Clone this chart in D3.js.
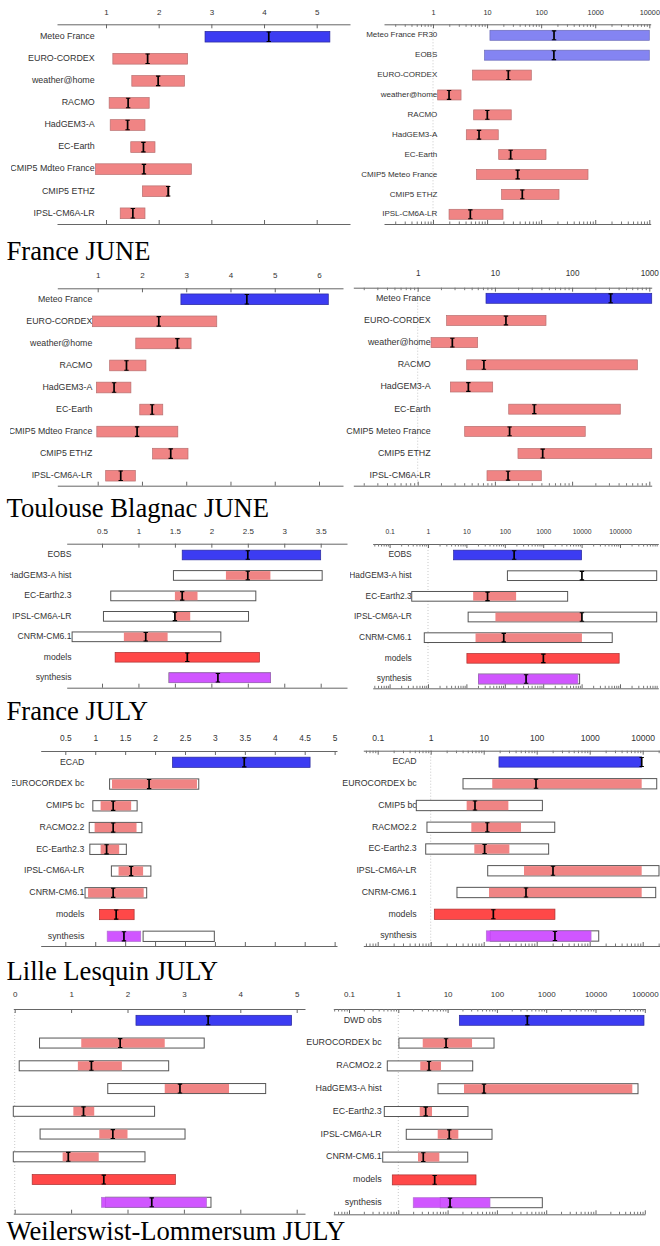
<!DOCTYPE html>
<html><head><meta charset="utf-8">
<script src="https://cdn.jsdelivr.net/npm/d3@7"></script>
<style>body{margin:0;background:#fff} svg{display:block}</style>
</head><body>
<svg id="c" width="660" height="1246"></svg>
<script>
// ================= DATA =================
// kinds: b = observations (blue), lb = observations (light blue), p = model (pink), r = all models (red), v = synthesis (violet)
// Row 1: France JUNE
const p1L_cat  = ["Meteo France","EURO-CORDEX","weather@home","RACMO","HadGEM3-A","EC-Earth","CMIP5 Mdteo France","CMIP5 ETHZ","IPSL-CM6A-LR"];
const p1L_kind = ["b","p","p","p","p","p","p","p","p"];
const p1L_lo   = [2.88,1.13,1.49,1.06,1.08,1.47,0.80,1.69,1.27];
const p1L_hi   = [5.25,2.55,2.49,1.82,1.74,1.93,2.62,2.20,1.74];
const p1L_med  = [4.09,1.79,1.99,1.42,1.41,1.71,1.72,2.18,1.51];
const p1L_ticks = [1,2,3,4,5];

const p1R_cat  = ["Meteo France FR30","EOBS","EURO-CORDEX","weather@home","RACMO","HadGEM3-A","EC-Earth","CMIP5 Meteo France","CMIP5 ETHZ","IPSL-CM6A-LR"];
const p1R_kind = ["lb","lb","p","p","p","p","p","p","p","p"];
const p1R_lo   = [11.3,9.0,5.4,1.22,5.65,4.13,16.4,6.4,18.6,1.98];
const p1R_hi   = [10000,10000,65.8,3.3,28,16.1,123,735,214,19.7];
const p1R_med  = [173,172,24.7,1.98,10.1,7.1,27.3,36.8,44.8,4.9];
const p1R_ticks = [1,10,100,1000,10000];

// Row 2: Toulouse Blagnac JUNE
const p2L_cat  = ["Meteo France","EURO-CORDEX","weather@home","RACMO","HadGEM3-A","EC-Earth","CMIP5 Mdteo France","CMIP5 ETHZ","IPSL-CM6A-LR"];
const p2L_kind = ["b","p","p","p","p","p","p","p","p"];
const p2L_lo   = [2.88,0.88,1.86,1.27,0.97,1.95,0.98,2.24,1.18];
const p2L_hi   = [6.21,3.69,3.11,2.09,1.75,2.47,2.81,3.04,1.85];
const p2L_med  = [4.37,2.38,2.80,1.65,1.37,2.23,1.89,2.65,1.52];
const p2L_ticks = [1,2,3,4,5,6];

const p2R_cat  = ["Meteo France","EURO-CORDEX","weather@home","RACMO","HadGEM3-A","EC-Earth","CMIP5 Meteo France","CMIP5 ETHZ","IPSL-CM6A-LR"];
const p2R_kind = ["b","p","p","p","p","p","p","p","p"];
const p2R_lo   = [7.67,2.37,1.49,4.31,2.65,15.1,4.06,19.9,7.9];
const p2R_hi   = [1075,45.9,5.98,700,9.36,421,148,1075,39.9];
const p2R_med  = [316,13.9,2.81,7.2,4.53,32.4,15.5,41.6,14.8];
const p2R_ticks = [1,10,100,1000];

// Row 3: France JULY
const p3L_cat   = ["EOBS","HadGEM3-A hist","EC-Earth2.3","IPSL-CM6A-LR","CNRM-CM6.1","models","synthesis"];
const p3L_kind  = ["b","p","p","p","p","r","v"];
const p3L_lo    = [1.60,2.20,1.50,1.50,0.80,0.68,1.42];
const p3L_hi    = [3.50,2.81,1.81,1.71,1.40,2.66,2.81];
const p3L_med   = [2.50,2.50,1.60,1.50,1.10,1.67,2.09];
const p3L_boxLo = [null,1.48,0.62,0.52,0.09,null,1.42];
const p3L_boxHi = [null,3.52,2.61,2.51,2.13,null,2.81];
const p3L_ticks = [0.5,1,1.5,2,2.5,3,3.5];

const p3R_cat   = ["EOBS","HadGEM3-A hist","EC-Earth2.3","IPSL-CM6A-LR","CNRM-CM6.1","models","synthesis"];
const p3R_kind  = ["b","p","p","p","p","r","v"];
const p3R_lo    = [4.65,null,15,57,17.3,10.3,20.7];
const p3R_hi    = [10000,null,197,10200,10200,95100,8010];
const p3R_med   = [175,10200,35.5,10200,94,1010,358];
const p3R_boxLo = [null,117,0.377,11.1,0.80,null,20.7];
const p3R_boxHi = [null,903000,4330,903000,62700,null,8870];
const p3R_ticks = [0.1,1,10,100,1000,10000,100000];

// Row 4: Lille Lesquin JULY
const p4L_cat   = ["ECAD","EUROCORDEX bc","CMIP5 bc","RACMO2.2","EC-Earth2.3","IPSL-CM6A-LR","CNRM-CM6.1","models","synthesis"];
const p4L_kind  = ["b","p","p","p","p","p","p","r","v"];
const p4L_lo    = [2.29,1.28,1.09,0.99,1.09,1.39,0.88,1.07,1.20];
const p4L_hi    = [4.59,2.70,1.60,1.69,1.40,1.80,1.81,1.65,1.76];
const p4L_med   = [3.49,1.90,1.30,1.30,1.19,1.60,1.30,1.35,1.48];
const p4L_boxLo = [null,1.24,0.96,0.90,0.91,1.27,0.83,null,1.80];
const p4L_boxHi = [null,2.73,1.70,1.78,1.52,1.93,1.86,null,2.99];
const p4L_ticks = [0.5,1,1.5,2,2.5,3,3.5,4,4.5,5];

const p4R_cat   = ["ECAD","EUROCORDEX bc","CMIP5 bc","RACMO2.2","EC-Earth2.3","IPSL-CM6A-LR","CNRM-CM6.1","models","synthesis"];
const p4R_kind  = ["b","p","p","p","p","p","p","r","v"];
const p4R_lo    = [19.4,14.5,4.77,5.84,6.65,57.6,12.6,1.17,11.2];
const p4R_hi    = [9570,9570,29.2,50.6,30.5,9570,9570,221,1060];
const p4R_med   = [9570,97,6.85,11.7,10.4,203,62.8,15.2,221];
const p4R_boxLo = [null,4.07,0.535,0.85,0.805,11.9,3.13,null,13.3];
const p4R_boxHi = [null,18400,128,219,168,20300,17600,null,1480];
const p4R_ticks = [0.1,1,10,100,1000,10000];

// Row 5: Weilerswist-Lommersum JULY
const p5L_cat   = ["DWD obs","EUROCORDEX bc","RACMO2.2","HadGEM3-A hist","EC-Earth2.3","IPSL-CM6A-LR","CNRM-CM6.1","models","synthesis"];
const p5L_kind  = ["b","p","p","p","p","p","p","r","v"];
const p5L_lo    = [2.15,1.18,1.12,2.66,1.04,1.50,0.85,0.31,1.54];
const p5L_hi    = [4.91,2.66,1.90,3.80,1.41,2.00,1.49,2.85,3.40];
const p5L_med   = [3.43,1.87,1.36,2.93,1.22,1.74,0.95,1.58,2.43];
const p5L_boxLo = [null,0.44,0.08,1.65,-0.04,0.45,-0.04,null,1.61];
const p5L_boxHi = [null,3.36,2.73,4.45,2.48,3.02,2.31,null,3.48];
const p5L_ticks = [0,1,2,3,4,5];

const p5R_cat   = ["DWD obs","EUROCORDEX bc","RACMO2.2","HadGEM3-A hist","EC-Earth2.3","IPSL-CM6A-LR","CNRM-CM6.1","models","synthesis"];
const p5R_kind  = ["b","p","p","p","p","p","p","r","v"];
const p5R_lo    = [17.3,3.13,2.79,21.5,2.72,6.3,2.51,0.755,2.01];
const p5R_hi    = [96300,31.3,7.35,55800,4.83,16.5,6.79,37.7,72.4];
const p5R_med   = [414,9.3,4.2,54.7,3.6,10.8,3.21,5.47,11.2];
const p5R_boxLo = [null,1.03,0.598,6.38,0.52,1.45,0.483,null,7.1];
const p5R_boxHi = [null,87.4,32.3,72800,25.9,79.6,25.6,null,834];
const p5R_ticks = [0.1,1,10,100,1000,10000,100000];

const captions = ["France JUNE","Toulouse Blagnac JUNE","France JULY","Lille Lesquin JULY","Weilerswist-Lommersum JULY"];

// ================= LAYOUT / STYLE =================
const colors = {
  b:  {fill:"#3c3cf2", stroke:"#28289a"},
  lb: {fill:"#8484f2", stroke:"#6a6ab8"},
  p:  {fill:"#f08484", stroke:"#b87070"},
  r:  {fill:"#ff4848", stroke:"#a83030"},
  v:  {fill:"#cc48ff", stroke:"#b070d0"}
};

const panels = [
  {d:[p1L_cat,p1L_kind,p1L_lo,p1L_hi,p1L_med,null,null,p1L_ticks], log:false, cal:[[1,106],[5,316.7]], x0:57, x1:350, top:24.3, bot:224, y0:36.7, y1:213.3, bh:10.7, lx:94.7, ty:12.7, fl:8.9, ft:8, clip:[11,0,352,232], labels:true},
  {d:[p1R_cat,p1R_kind,p1R_lo,p1R_hi,p1R_med,null,null,p1R_ticks], log:true, cal:[[1,433],[10000,649.3]], x0:384, x1:650.7, top:24.3, bot:224, y0:35.3, y1:214.3, bh:10, lx:437.3, ty:13.3, fl:8.0, ft:7.3, clip:[352,0,660,232], labels:true},
  {d:[p2L_cat,p2L_kind,p2L_lo,p2L_hi,p2L_med,null,null,p2L_ticks], log:false, cal:[[1,97.7],[6,319]], x0:57.3, x1:343, top:288.3, bot:485.7, y0:299.3, y1:475.7, bh:10.7, lx:92.3, ty:275.7, fl:8.8, ft:8, clip:[10,264,344,492], labels:true},
  {d:[p2R_cat,p2R_kind,p2R_lo,p2R_hi,p2R_med,null,null,p2R_ticks], log:true, cal:[[1,417.7],[1000,649.3]], x0:353.3, x1:651.7, top:287.7, bot:485.7, y0:298.3, y1:475.7, bh:10, lx:430.7, ty:274, fl:8.9, ft:8.2, clip:[344,264,660,492], labels:true},
  {d:[p3L_cat,p3L_kind,p3L_lo,p3L_hi,p3L_med,p3L_boxLo,p3L_boxHi,p3L_ticks], log:false, cal:[[0.5,102],[3.5,320.7]], x0:66.7, x1:347, top:543.7, bot:687.7, y0:555, y1:677.7, bh:9.7, lx:71.5, ty:532.3, fl:8.6, ft:8, clip:[10,524,348,694], labels:true},
  {d:[p3R_cat,p3R_kind,p3R_lo,p3R_hi,p3R_med,p3R_boxLo,p3R_boxHi,p3R_ticks], log:true, cal:[[1,428],[100000,620]], x0:372.7, x1:658.3, top:544, bot:688.3, y0:555, y1:679, bh:9.7, lx:411.7, ty:532.3, fl:8.4, ft:6.8, clip:[350,524,660,694], labels:true},
  {d:[p4L_cat,p4L_kind,p4L_lo,p4L_hi,p4L_med,p4L_boxLo,p4L_boxHi,p4L_ticks], log:false, cal:[[0.5,65.3],[4.5,304.7]], x0:40.7, x1:337, top:751, bot:946, y0:762.3, y1:936.3, bh:10.3, lx:84.3, ty:739, fl:8.75, ft:8.4, clip:[12,726,340,952], labels:true},
  {d:[p4R_cat,p4R_kind,p4R_lo,p4R_hi,p4R_med,p4R_boxLo,p4R_boxHi,p4R_ticks], log:true, cal:[[1,430.7],[10000,642.7]], x0:363.3, x1:668, top:750.7, bot:946, y0:762, y1:936, bh:10.3, lx:416.7, ty:739, fl:8.75, ft:8.6, clip:[342,726,660,952], labels:true},
  {d:[p5L_cat,p5L_kind,p5L_lo,p5L_hi,p5L_med,p5L_boxLo,p5L_boxHi,p5L_ticks], log:false, cal:[[0,14.7],[5,296.7]], x0:13.3, x1:305, top:1009, bot:1213.7, y0:1020.3, y1:1202.3, bh:10, lx:0, ty:995, fl:8.8, ft:8, clip:[11,986,306,1220], labels:false},
  {d:[p5R_cat,p5R_kind,p5R_lo,p5R_hi,p5R_med,p5R_boxLo,p5R_boxHi,p5R_ticks], log:true, cal:[[1,398.3],[100000,644.8]], x0:333.3, x1:645, top:1009, bot:1214.3, y0:1020.3, y1:1202.7, bh:10, lx:381.7, ty:995, fl:8.9, ft:8, clip:[298,986,660,1220], labels:true}
];
const captionPos = [[6.5,259.5],[6.5,517],[6.5,720],[6.5,980],[6.5,1239.5]];

// ================= DRAW =================
const svg = d3.select("#c");
const defs = svg.append("defs");
const SANS = "'Liberation Sans', Arial, Helvetica, sans-serif";

panels.forEach((P, pi) => {
  const [cat, kind, lo, hi, med, boxLo, boxHi, ticks] = P.d;
  defs.append("clipPath").attr("id", "clip" + pi).append("rect")
    .attr("x", P.clip[0]).attr("y", P.clip[1])
    .attr("width", P.clip[2] - P.clip[0]).attr("height", P.clip[3] - P.clip[1]);
  const g = svg.append("g").attr("clip-path", `url(#clip${pi})`);

  // x scale, calibrated from two tick positions, then extended to the axis extent
  const x = (P.log ? d3.scaleLog() : d3.scaleLinear())
    .domain([P.cal[0][0], P.cal[1][0]]).range([P.cal[0][1], P.cal[1][1]]);
  x.domain([x.invert(P.x0), x.invert(P.x1)]).range([P.x0, P.x1]);
  const [dmin, dmax] = x.domain();

  const y = d3.scalePoint().domain(cat).range([P.y0, P.y1]);

  // reference dotted line (1 on log axes, 0 on linear axes)
  const ref = P.log ? 1 : 0;
  if (ref >= dmin && ref <= dmax) {
    g.append("line").attr("x1", x(ref)).attr("x2", x(ref))
      .attr("y1", P.top).attr("y2", P.bot)
      .attr("stroke", "#bbb").attr("stroke-width", 0.8).attr("stroke-dasharray", "1,2");
  }

  // axes
  const fmt = d => String(d);
  const topAx = g.append("g").attr("transform", `translate(0,${P.top})`)
    .call(d3.axisTop(x).tickValues(ticks.filter(t => t >= dmin && t <= dmax)).tickSize(-4).tickSizeOuter(0).tickFormat(fmt));
  topAx.selectAll("text").attr("y", P.ty - P.top).attr("dy", null)
    .attr("dominant-baseline", "middle")
    .style("font-family", SANS).style("font-size", P.ft + "px").attr("fill", "#333");
  const botAx = g.append("g").attr("transform", `translate(0,${P.bot})`)
    .call(d3.axisBottom(x).tickValues(ticks.filter(t => t >= dmin && t <= dmax)).tickSize(-4).tickSizeOuter(0).tickFormat(""));
  [topAx, botAx].forEach(a => {
    a.select(".domain").attr("stroke", "#666").attr("stroke-width", 1);
    a.selectAll(".tick line").attr("stroke", "#666");
  });

  if (P.log) {
    const minors = [];
    for (let k = Math.floor(Math.log10(dmin)); k <= Math.ceil(Math.log10(dmax)); k++)
      for (let m = 2; m <= 9; m++) {
        const v = m * Math.pow(10, k);
        if (v >= dmin && v <= dmax) minors.push(v);
      }
    [[P.top, d3.axisTop], [P.bot, d3.axisBottom]].forEach(([yy, ax]) => {
      const mg = g.append("g").attr("transform", `translate(0,${yy})`)
        .call(ax(x).tickValues(minors).tickSize(-2.5).tickSizeOuter(0).tickFormat(""));
      mg.select(".domain").remove();
      mg.selectAll(".tick line").attr("stroke", "#777");
    });
  }

  // category labels
  if (P.labels) {
    g.selectAll("text.lab").data(cat).join("text").attr("class", "lab")
      .attr("x", P.lx).attr("y", d => y(d))
      .attr("text-anchor", "end").attr("dominant-baseline", "middle")
      .style("font-family", SANS).style("font-size", P.fl + "px").attr("fill", "#333")
      .text(d => d);
  }

  // bars
  const h = P.bh;
  cat.forEach((c, i) => {
    const yc = y(c);
    const hasBox = boxLo && boxLo[i] != null;
    if (hasBox) {
      g.append("rect").attr("x", x(Math.max(boxLo[i], dmin))).attr("y", yc - h / 2)
        .attr("width", x(Math.min(boxHi[i], dmax)) - x(Math.max(boxLo[i], dmin))).attr("height", h)
        .attr("fill", "#fff").attr("stroke", "#555").attr("stroke-width", 1);
    }
    if (lo[i] != null) {
      const col = colors[kind[i]];
      const xa = x(lo[i]), xb = x(hi[i]);
      if (hasBox && kind[i] === "p") {
        g.append("rect").attr("x", xa).attr("y", yc - h / 2 + 0.5)
          .attr("width", xb - xa).attr("height", h - 1)
          .attr("fill", col.fill);
      } else {
        g.append("rect").attr("x", xa).attr("y", yc - h / 2)
          .attr("width", xb - xa).attr("height", h)
          .attr("fill", col.fill).attr("fill-opacity", hasBox ? 0.92 : 1)
          .attr("stroke", col.stroke).attr("stroke-width", 0.7);
      }
    }
    // median marker
    const xm = x(med[i]);
    g.append("path")
      .attr("d", `M${xm},${yc - h / 2 + 0.5}V${yc + h / 2 - 0.5}`)
      .attr("stroke", "#000").attr("stroke-width", 1.7);
    g.append("path")
      .attr("d", `M${xm - 2.2},${yc - h / 2 + 0.6}H${xm + 2.2}M${xm - 2.2},${yc + h / 2 - 0.6}H${xm + 2.2}`)
      .attr("stroke", "#000").attr("stroke-width", 1.1);
  });
});

// captions
svg.selectAll("text.cap").data(captions).join("text").attr("class", "cap")
  .attr("x", (d, i) => captionPos[i][0]).attr("y", (d, i) => captionPos[i][1])
  .style("font-family", "'Liberation Serif', 'Times New Roman', serif")
  .style("font-size", "26.6px").attr("fill", "#000")
  .text(d => d);
</script>
</body></html>
